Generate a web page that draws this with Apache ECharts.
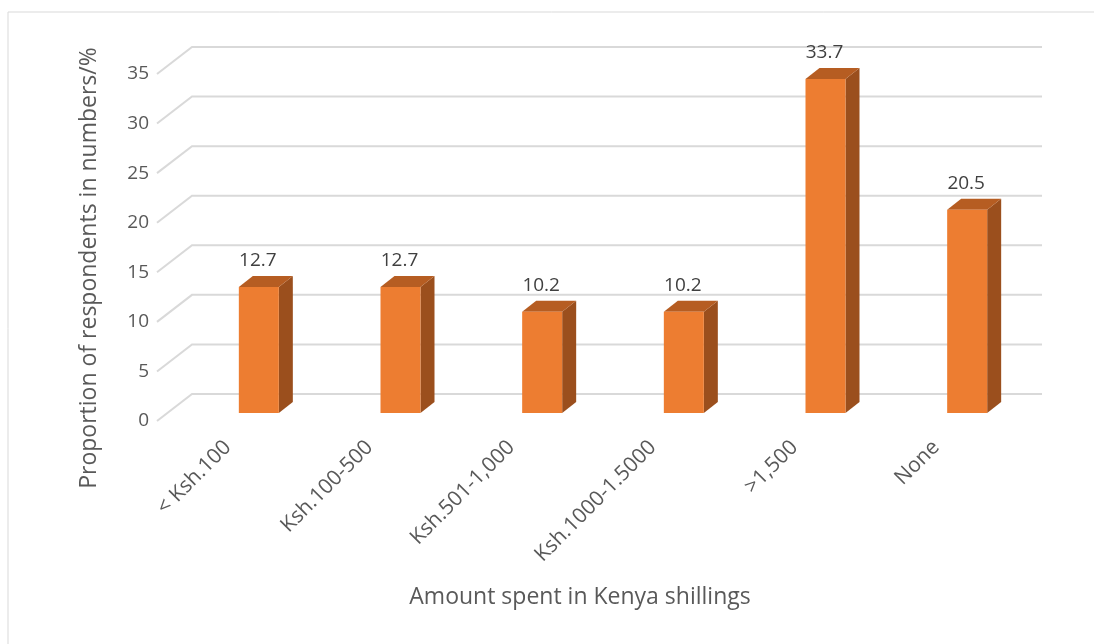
<!DOCTYPE html>
<html>
<head>
<meta charset="utf-8">
<script src="https://cdn.jsdelivr.net/npm/echarts@6/dist/echarts.min.js"></script>
<style>
html,body{margin:0;padding:0;background:#fff;}
#chart{width:1094px;height:644px;}
</style>
</head>
<body>
<div id="chart"></div>
<script>
const categories = ['< Ksh.100', 'Ksh.100-500', 'Ksh.501-1,000', 'Ksh.1000-1.5000', '>1,500', 'None'];
const values = [12.7, 12.7, 10.2, 10.2, 33.7, 20.5];
const yTicks = [0, 5, 10, 15, 20, 25, 30, 35];
const xTitle = 'Amount spent in Kenya shillings';
const yTitle = 'Proportion of respondents in numbers/%';

const FONT = '"Open Sans", "Liberation Sans", sans-serif';
const FRONT = '#ED7D31', TOPC = '#B65D22', SIDE = '#9B4F1D';
const GRID = '#D9D9D9';
// 3D offsets (pixels)
const WALL_DX = 35, WALL_DY = -27;
const BAR_SHIFT_X = 31, BAR_SHIFT_Y = -8, BAR_W = 40, DEP_DX = 14, DEP_DY = -11;

const chart = echarts.init(document.getElementById('chart'), null, {renderer: 'canvas'});

chart.setOption({
  animation: false,
  backgroundColor: '#fff',
  grid: {left: 157, right: 87, top: 74, bottom: 223, containLabel: false},
  xAxis: {
    type: 'category',
    data: categories,
    boundaryGap: true,
    axisLine: {show: false},
    axisTick: {show: false},
    splitLine: {show: false},
    axisLabel: {
      rotate: 45, margin: 23, interval: 0,
      color: '#595959', fontFamily: FONT, fontSize: 21
    }
  },
  yAxis: {
    type: 'value', min: 0, max: 35, interval: 5,
    axisLine: {show: false},
    axisTick: {show: false},
    splitLine: {show: false},
    axisLabel: {margin: 8, color: '#595959', fontFamily: FONT, fontSize: 19}
  },
  graphic: [
    {type: 'rect', x: 8, y: 12, shape: {x: 0, y: 0, width: 1200, height: 800},
     style: {fill: null, stroke: '#D9D9D9', lineWidth: 1}, silent: true, z: -10},
    {type: 'text', x: 580, y: 597,
     style: {text: xTitle, textAlign: 'center', textVerticalAlign: 'middle',
             font: '23px ' + FONT, fill: '#595959'}},
    {type: 'text', x: 89, y: 268, rotation: Math.PI / 2,
     style: {text: yTitle, textAlign: 'center', textVerticalAlign: 'middle',
             font: '23px ' + FONT, fill: '#595959'}}
  ],
  series: [
    {
      type: 'custom',
      name: 'gridlines',
      silent: true,
      z: 1,
      data: yTicks.map(v => [0, v]),
      renderItem: function (params, api) {
        const cs = params.coordSys;
        const y = api.coord([0, api.value(1)])[1];
        return {
          type: 'polyline',
          shape: {points: [[cs.x, y], [cs.x + WALL_DX, y + WALL_DY], [cs.x + cs.width + WALL_DX, y + WALL_DY]]},
          style: {stroke: GRID, lineWidth: 2, fill: null}
        };
      }
    },
    {
      type: 'custom',
      name: 'Proportion',
      z: 5,
      data: values.map((v, i) => [i, v]),
      renderItem: function (params, api) {
        const top = api.coord([api.value(0), api.value(1)]);
        const base = api.coord([api.value(0), 0]);
        const cx = top[0] + BAR_SHIFT_X;
        const x0 = cx - BAR_W / 2, x1 = cx + BAR_W / 2;
        const yt = top[1] + BAR_SHIFT_Y, yb = base[1] + BAR_SHIFT_Y;
        return {
          type: 'group',
          children: [
            {type: 'polygon', shape: {points: [[x1, yb], [x1 + DEP_DX, yb + DEP_DY], [x1 + DEP_DX, yt + DEP_DY], [x1, yt]]},
             style: {fill: SIDE}},
            {type: 'polygon', shape: {points: [[x0, yt], [x0 + DEP_DX, yt + DEP_DY], [x1 + DEP_DX, yt + DEP_DY], [x1, yt]]},
             style: {fill: TOPC}},
            {type: 'rect', shape: {x: x0, y: yt, width: BAR_W, height: yb - yt},
             style: {fill: FRONT}},
            {type: 'text', x: cx - 1, y: yt - 26,
             style: {text: String(api.value(1)), textAlign: 'center', textVerticalAlign: 'middle',
                     font: '19px ' + FONT, fill: '#404040'}}
          ]
        };
      }
    }
  ]
});
</script>
</body>
</html>
